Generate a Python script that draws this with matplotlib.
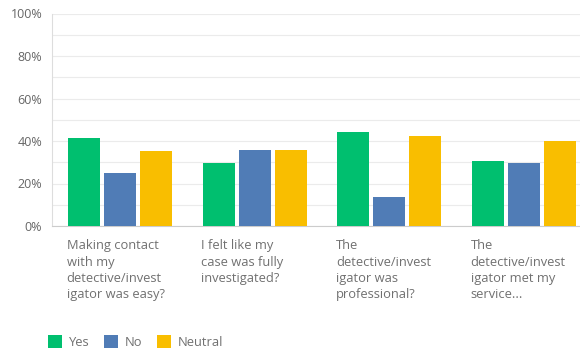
import matplotlib
matplotlib.use("Agg")
from matplotlib import pyplot as plt
from matplotlib.patches import Patch
import matplotlib.transforms as mtransforms

questions = [
    "Making contact\nwith my\ndetective/invest\nigator was easy?",
    "I felt like my\ncase was fully\ninvestigated?",
    "The\ndetective/invest\nigator was\nprofessional?",
    "The\ndetective/invest\nigator met my\nservice...",
]
series = ["Yes", "No", "Neutral"]
yes = [41.4, 29.8, 44.4, 30.7]
no = [24.8, 35.8, 13.5, 29.6]
neutral = [35.4, 35.8, 42.5, 40.0]
colors = ["#00BF6F", "#507CB6", "#F9BE00"]

plt.rcParams['font.family'] = ['Open Sans', 'DejaVu Sans']
fig = plt.figure(figsize=(5.8, 3.51), dpi=100)
ax = fig.add_axes([52/580, 1-226/351, 528/580, 212.5/351])

width = 0.2376
step = 0.267
xs = range(len(questions))
for i, (vals, c) in enumerate(zip([yes, no, neutral], colors)):
    ax.bar([x + (i-1)*step for x in xs], vals, width=width, color=c, zorder=3)

ax.set_xlim(-0.505, 3.416)
ax.set_ylim(0, 100)
ax.set_yticks(range(0, 101, 10))
ax.set_yticklabels([f"{v}%" if v % 20 == 0 else "" for v in range(0, 101, 10)],
                   fontsize=9, color="#666666")
ax.tick_params(axis='y', length=0, pad=7)
ax.set_xticks([])
ax.grid(axis='y', color="#ebebeb", linewidth=0.8, zorder=0)
for s in ['top', 'right']:
    ax.spines[s].set_visible(False)
ax.spines['left'].set_color("#dddddd")
ax.spines['bottom'].set_color("#cccccc")

trans = mtransforms.blended_transform_factory(ax.transData, ax.transAxes)
for x, q in zip(xs, questions):
    ax.text(x - step - width/2 - 0.01, -0.063, q, transform=trans, va='top', ha='left',
            fontsize=9.3, color="#707070", linespacing=1.32)

handles = [Patch(facecolor=c, edgecolor='none') for c in colors]
fig.legend(handles, series, loc='center left', bbox_to_anchor=(36/580, 1-342/351),
           ncol=3, frameon=False, handlelength=1.1, handleheight=1.1,
           handletextpad=0.55, columnspacing=1.1, prop={'size': 9.3},
           labelcolor="#707070")

fig.savefig("out.png", dpi=100)
